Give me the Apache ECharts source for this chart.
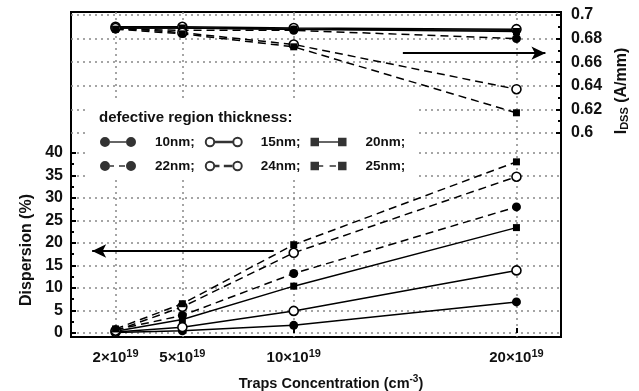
<!DOCTYPE html>
<html>
<head>
<meta charset="utf-8">
<script src="https://cdn.jsdelivr.net/npm/echarts@6/dist/echarts.min.js"></script>
<style>html,body{margin:0;padding:0;background:#fff;}#c{width:639px;height:391px;}</style>
</head>
<body>
<div id="c"></div>
<script>
// ---- data ----
const trapConc = [2, 5, 10, 20];            // ×10^19 cm^-3
const thickness = ['10nm;', '15nm;', '20nm;', '22nm;', '24nm;', '25nm;'];
const disp10 = [0.1, 0.5, 1.7, 6.9];
const disp15 = [0.2, 1.3, 4.9, 13.9];
const disp20 = [0.4, 3.0, 10.4, 23.4];
const disp22 = [0.7, 3.9, 13.2, 28.0];
const disp24 = [0.5, 5.8, 17.8, 34.7];
const disp25 = [0.9, 6.5, 19.6, 38.0];
const idss10 = [0.689, 0.689, 0.688, 0.687];
const idss15 = [0.690, 0.690, 0.689, 0.688];
const idss20 = [0.689, 0.689, 0.688, 0.686];
const idss22 = [0.688, 0.687, 0.687, 0.680];
const idss24 = [0.689, 0.685, 0.675, 0.637];
const idss25 = [0.688, 0.684, 0.673, 0.617];
const xTicks = [2, 5, 10, 20];
const leftTicks = [0, 5, 10, 15, 20, 25, 30, 35, 40];
const leftMinor = [2.5, 7.5, 12.5, 17.5, 22.5, 27.5, 32.5, 37.5];
const rightTicks = [0.6, 0.62, 0.64, 0.66, 0.68, 0.7];
const rightMinor = [0.61, 0.63, 0.65, 0.67, 0.69];
// arrows (annotation): [x0,y0] -> [x1,y1]
const leftArrow = [[9.1, 18.2], [0.95, 18.2]];
const rightArrow = [[14.9, 0.6676], [21.3, 0.6676]];

const dispAll = [disp10, disp15, disp20, disp22, disp24, disp25];
const idssAll = [idss10, idss15, idss20, idss22, idss24, idss25];

const FONT = 'Liberation Sans';
const symbols = ['circle', 'circle', 'rect', 'circle', 'circle', 'rect'];
const openMarker = [false, true, false, false, true, false];
const dashed = [false, false, false, true, true, true];
const symSize = [9, 9, 7, 9, 9, 7];

// legend icon paths (marker - line - marker)
const pCircSolid = 'path://M0,5a5,5 0 1,0 10,0a5,5 0 1,0 -10,0Z M10,4.3L26,4.3L26,5.7L10,5.7Z M26,5a5,5 0 1,0 10,0a5,5 0 1,0 -10,0Z';
const pCircDash = 'path://M0,5a5,5 0 1,0 10,0a5,5 0 1,0 -10,0Z M10,4.3L14,4.3L14,5.7L10,5.7Z M19,4.3L25,4.3L25,5.7L19,5.7Z M26,5a5,5 0 1,0 10,0a5,5 0 1,0 -10,0Z';
const pOCircSolid = 'path://M1,5a4,4 0 1,0 8,0a4,4 0 1,0 -8,0Z M9,4.8L27,4.8L27,5.2L9,5.2Z M27,5a4,4 0 1,0 8,0a4,4 0 1,0 -8,0Z';
const pOCircDash = 'path://M1,5a4,4 0 1,0 8,0a4,4 0 1,0 -8,0Z M9,4.8L13,4.8L13,5.2L9,5.2Z M19,4.8L25,4.8L25,5.2L19,5.2Z M27,5a4,4 0 1,0 8,0a4,4 0 1,0 -8,0Z';
const pRectSolid = 'path://M1,1L9,1L9,9L1,9Z M9,4.3L27,4.3L27,5.7L9,5.7Z M27,1L35,1L35,9L27,9Z';
const pRectDash = 'path://M1,1L9,1L9,9L1,9Z M9,4.3L13,4.3L13,5.7L9,5.7Z M19,4.3L25,4.3L25,5.7L19,5.7Z M27,1L35,1L35,9L27,9Z';
const legendIcons = [pCircSolid, pOCircSolid, pRectSolid, pCircDash, pOCircDash, pRectDash];

const series = [];
// dummy series used only for legend icons
thickness.forEach((n, i) => {
  const open = openMarker[i];
  series.push({
    name: n, type: 'scatter', data: [], xAxisIndex: 0, yAxisIndex: 0,
    itemStyle: open ? {color: '#fff', borderColor: '#000', borderWidth: 1.3} : {color: '#000'}
  });
});
thickness.forEach((n, i) => {
  const common = {
    name: n, type: 'line', symbol: symbols[i], symbolSize: symSize[i], showSymbol: true,
    lineStyle: {color: '#000', width: 1.5, type: dashed[i] ? [8, 5] : 'solid'},
    itemStyle: openMarker[i] ? {color: '#fff', borderColor: '#000', borderWidth: 1.6} : {color: '#000', borderColor: '#000', borderWidth: 0},
    animation: false, z: 3
  };
  series.push(Object.assign({}, common, {
    xAxisIndex: 0, yAxisIndex: 0,
    data: trapConc.map((x, k) => [x, dispAll[i][k]])
  }));
  series.push(Object.assign({}, common, {
    xAxisIndex: 0, yAxisIndex: 2,
    data: trapConc.map((x, k) => [x, idssAll[i][k]])
  }));
});
// arrows
series.push({
  type: 'line', data: [], xAxisIndex: 0, yAxisIndex: 0, silent: true,
  markLine: {
    silent: true, animation: false, symbol: ['none', 'arrow'], symbolSize: [10, 14],
    label: {show: false},
    lineStyle: {color: '#000', width: 2, type: 'solid'},
    data: [[{coord: leftArrow[0]}, {coord: leftArrow[1]}]]
  }
});
series.push({
  type: 'line', data: [], xAxisIndex: 0, yAxisIndex: 2, silent: true,
  markLine: {
    silent: true, animation: false, symbol: ['none', 'arrow'], symbolSize: [10, 14],
    label: {show: false},
    lineStyle: {color: '#000', width: 2, type: 'solid'},
    data: [[{coord: rightArrow[0]}, {coord: rightArrow[1]}]]
  }
});

const splitStyle = {show: true, lineStyle: {color: '#888', width: 1.5, type: [2, 4]}};

const option = {
  animation: false,
  backgroundColor: '#fff',
  textStyle: {fontFamily: FONT},
  grid: {left: 71, right: 78, top: 12, bottom: 54, show: true, borderColor: '#000', borderWidth: 2, backgroundColor: 'transparent', containLabel: false, outerBoundsMode: 'none'},
  title: {
    text: 'defective region thickness:', left: 99, top: 110,
    padding: 0,
    textStyle: {fontFamily: FONT, fontWeight: 'bold', fontSize: 15, color: '#111'},
    z: 10
  },
  legend: {
    left: 88, top: 100, width: 310, orient: 'horizontal',
    padding: [35, 12, 4, 12],
    backgroundColor: '#fff',
    itemWidth: 36, itemHeight: 10, itemGap: 10,
    selectedMode: false,
    textStyle: {fontFamily: FONT, fontWeight: 'bold', fontSize: 13.5, color: '#111', padding: [0, 0, 0, 14], lineHeight: 12},
    data: thickness.map((n, i) => ({name: n, icon: legendIcons[i]}))
  },
  xAxis: [{
    type: 'value', min: 0, max: 22,
    axisLine: {show: false},
    axisTick: {show: true, inside: true, length: 5, lineStyle: {color: '#000', width: 2}, customValues: xTicks},
    axisLabel: {
      customValues: xTicks, margin: 11, color: '#111',
      formatter: v => '{b|' + v + '×10}{s|19}',
      rich: {
        b: {fontFamily: FONT, fontWeight: 'bold', fontSize: 15, color: '#111'},
        s: {fontFamily: FONT, fontWeight: 'bold', fontSize: 11, color: '#111', padding: [0, 0, 9, 0]}
      }
    },
    splitLine: splitStyle,
    name: '{b|Traps Concentration (cm}{s|-3}{b|)}',
    nameLocation: 'middle', nameGap: 37,
    nameTextStyle: {
      padding: [0, 0, 0, 30],
      rich: {
        b: {fontFamily: FONT, fontWeight: 'bold', fontSize: 14.5, color: '#111'},
        s: {fontFamily: FONT, fontWeight: 'bold', fontSize: 10, color: '#111', padding: [0, 0, 9, 0]}
      }
    }
  }],
  yAxis: [
    {
      type: 'value', min: -0.89, max: 71.27, position: 'left',
      axisLine: {show: false},
      axisTick: {show: true, inside: true, length: 5, lineStyle: {color: '#000', width: 2}, customValues: leftTicks},
      axisLabel: {customValues: leftTicks, margin: 8, fontFamily: FONT, fontWeight: 'bold', fontSize: 16, color: '#111'},
      splitLine: splitStyle
    },
    {
      type: 'value', min: -0.89, max: 71.27, position: 'left', offset: 0,
      axisLine: {show: false},
      axisTick: {show: true, inside: true, length: 3, lineStyle: {color: '#000', width: 2}, customValues: leftMinor},
      axisLabel: {show: false},
      splitLine: {show: false}
    },
    {
      type: 'value', min: 0.4267, max: 0.70255, position: 'right',
      axisLine: {show: false},
      axisTick: {show: true, inside: true, length: 5, lineStyle: {color: '#000', width: 2}, customValues: rightTicks},
      axisLabel: {customValues: rightTicks, margin: 10, fontFamily: FONT, fontWeight: 'bold', fontSize: 16, color: '#111', formatter: v => String(+v.toFixed(2))},
      splitLine: splitStyle
    },
    {
      type: 'value', min: 0.4267, max: 0.70255, position: 'right', offset: 0,
      axisLine: {show: false},
      axisTick: {show: true, inside: true, length: 3, lineStyle: {color: '#000', width: 2}, customValues: rightMinor},
      axisLabel: {show: false},
      splitLine: {show: false}
    }
  ],
  graphic: [
    {
      type: 'text', x: 27, y: 250, rotation: Math.PI / 2,
      style: {text: 'Dispersion (%)', font: 'bold 16px "Liberation Sans"', fill: '#111', align: 'center', verticalAlign: 'middle'}
    },
    {
      type: 'text', x: 622, y: 91, rotation: Math.PI / 2,
      style: {
        text: '{b|I}{s|DSS}{b| (A/mm)}', fill: '#111', align: 'center', verticalAlign: 'middle',
        rich: {
          b: {font: 'bold 16px "Liberation Sans"', fill: '#111'},
          s: {font: 'bold 11px "Liberation Sans"', fill: '#111', padding: [6, 0, 0, 0]}
        }
      }
    }
  ],
  series: series
};
const chart = echarts.init(document.getElementById('c'), null, {renderer: 'canvas'});
chart.setOption(option);
</script>
</body>
</html>
